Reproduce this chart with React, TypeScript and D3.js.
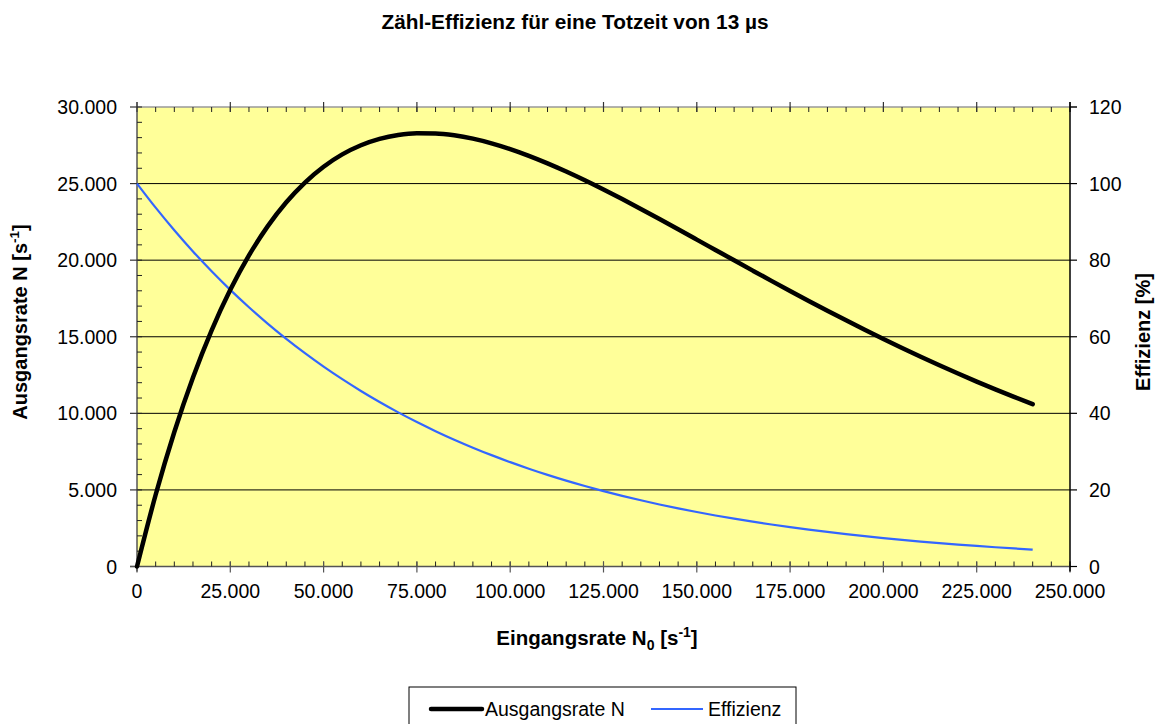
import React from "react";
import * as d3 from "d3";

// Eingangsrate N0 [1/s]
const inputRate = [
  0, 5000, 10000, 15000, 20000, 25000, 30000, 35000, 40000, 45000,
  50000, 55000, 60000, 65000, 70000, 75000, 80000, 85000, 90000, 95000,
  100000, 105000, 110000, 115000, 120000, 125000, 130000, 135000, 140000, 145000,
  150000, 155000, 160000, 165000, 170000, 175000, 180000, 185000, 190000, 195000,
  200000, 205000, 210000, 215000, 220000, 225000, 230000, 235000, 240000,
];
// Ausgangsrate N [1/s]
const outputRate = [
  0, 4685, 8781, 12342, 15421, 18063, 20312, 22206, 23781, 25070,
  26102, 26906, 27504, 27921, 28177, 28289, 28276, 28153, 27933, 27629,
  27253, 26815, 26324, 25789, 25217, 24614, 23988, 23343, 22684, 22015,
  21341, 20665, 19989, 19317, 18649, 17990, 17339, 16700, 16070, 15456,
  14854, 14268, 13696, 13140, 12600, 12074, 11567, 11073, 10598,
];
// Effizienz [%]
const efficiency = [
  100, 93.71, 87.81, 82.28, 77.11, 72.25, 67.71, 63.44, 59.45, 55.71,
  52.2, 48.92, 45.84, 42.96, 40.25, 37.72, 35.35, 33.12, 31.04, 29.08,
  27.25, 25.54, 23.93, 22.42, 21.01, 19.69, 18.45, 17.29, 16.2, 15.18,
  14.23, 13.33, 12.49, 11.71, 10.97, 10.28, 9.63, 9.03, 8.46, 7.93,
  7.43, 6.96, 6.52, 6.11, 5.73, 5.37, 5.03, 4.71, 4.42,
];
const xTicks = [0, 25000, 50000, 75000, 100000, 125000, 150000, 175000, 200000, 225000, 250000];
const yLeftTicks = [0, 5000, 10000, 15000, 20000, 25000, 30000];
const yRightTicks = [0, 20, 40, 60, 80, 100, 120];

const title = "Zähl-Effizienz für eine Totzeit von 13 µs";
const seriesNames = ["Ausgangsrate N", "Effizienz"];

const W = 1156;
const H = 724;
const left = 137;
const right = 1070;
const top = 107;
const bottom = 566.5;
const FONT = "'Liberation Sans', Arial, Helvetica, sans-serif";

const fmt = (v: number) => (v === 0 ? "0" : d3.format(",")(v).replace(/,/g, "."));

export default function App() {
  const x = d3.scaleLinear().domain([0, 250000]).range([left, right]);
  const yL = d3.scaleLinear().domain([0, 30000]).range([bottom, top]);
  const yR = d3.scaleLinear().domain([0, 120]).range([bottom, top]);

  const outLine = d3
    .line<number>()
    .x((_, i) => x(inputRate[i]))
    .y((d) => yL(d))
    .curve(d3.curveMonotoneX)(outputRate) as string;
  const effLine = d3
    .line<number>()
    .x((_, i) => x(inputRate[i]))
    .y((d) => yR(d))
    .curve(d3.curveMonotoneX)(efficiency) as string;

  const xMinor = d3.range(0, 250001, 5000);
  const yMinor = d3.range(0, 30001, 1000);

  return (
    <svg
      width={W}
      height={H}
      style={{ position: "absolute", left: 0, top: 0, display: "block", background: "#fff" }}
      fontFamily={FONT}
    >
      <text x={575} y={29} textAnchor="middle" fontSize={20.8} fontWeight="bold">
        {title}
      </text>

      {/* plot area */}
      <rect x={left} y={top} width={right - left} height={bottom - top} fill="#FFFF99" />

      {/* gridlines */}
      {yLeftTicks
        .filter((t) => t > 0 && t < 30000)
        .map((t) => (
          <line key={"g" + t} x1={left} x2={right} y1={yL(t)} y2={yL(t)} stroke="#000" strokeWidth={1} />
        ))}

      {/* top border */}
      <line x1={left} x2={right + 7} y1={top} y2={top} stroke="#999" strokeWidth={1.5} />
      {xMinor.map((t) => (
        <line key={"tm" + t} x1={x(t)} x2={x(t)} y1={top} y2={top + 5} stroke="#222" strokeWidth={1} />
      ))}
      {xTicks.map((t) => (
        <line key={"tM" + t} x1={x(t)} x2={x(t)} y1={top - 5} y2={top + 5} stroke="#333" strokeWidth={1.2} />
      ))}

      {/* left axis */}
      <line x1={left} x2={left} y1={top - 5} y2={bottom + 5} stroke="#555" strokeWidth={1.5} />
      {yMinor.map((t) => (
        <line key={"lm" + t} x1={left} x2={left + 5} y1={yL(t)} y2={yL(t)} stroke="#222" strokeWidth={1} />
      ))}
      {yLeftTicks.map((t) => (
        <g key={"l" + t}>
          <line x1={left - 7} x2={left} y1={yL(t)} y2={yL(t)} stroke="#333" strokeWidth={1.2} />
          <text x={117} y={yL(t) + 7} textAnchor="end" fontSize={19.5}>
            {fmt(t)}
          </text>
        </g>
      ))}

      {/* bottom axis */}
      <line x1={left - 7} x2={right} y1={bottom} y2={bottom} stroke="#555" strokeWidth={1.5} />
      {xMinor.map((t) => (
        <line key={"bm" + t} x1={x(t)} x2={x(t)} y1={bottom - 5} y2={bottom} stroke="#222" strokeWidth={1} />
      ))}
      {xTicks.map((t) => (
        <g key={"b" + t}>
          <line x1={x(t)} x2={x(t)} y1={bottom - 5} y2={bottom + 6} stroke="#555" strokeWidth={1.2} />
          <text x={x(t)} y={598} textAnchor="middle" fontSize={19.5}>
            {fmt(t)}
          </text>
        </g>
      ))}

      {/* right axis */}
      <line x1={right} x2={right} y1={top - 5} y2={bottom + 5} stroke="#000" strokeWidth={1.5} />
      {yRightTicks.map((t) => (
        <g key={"r" + t}>
          <line x1={right} x2={right + 7} y1={yR(t)} y2={yR(t)} stroke="#000" strokeWidth={1.2} />
          <text x={1089} y={yR(t) + 7} textAnchor="start" fontSize={19.5}>
            {t}
          </text>
        </g>
      ))}

      {/* series */}
      <path d={effLine} fill="none" stroke="#3366FF" strokeWidth={2.2} />
      <path d={outLine} fill="none" stroke="#000" strokeWidth={4.5} strokeLinecap="round" />

      {/* axis titles */}
      <text x={597} y={645} textAnchor="middle" fontSize={20.5} fontWeight="bold">
        Eingangsrate N
        <tspan fontSize={14} dy={5}>0</tspan>
        <tspan dy={-5}> [s</tspan>
        <tspan fontSize={14} dy={-8}>-1</tspan>
        <tspan dy={8}>]</tspan>
      </text>
      <text
        transform={`translate(27, 322) rotate(-90)`}
        textAnchor="middle"
        fontSize={20}
        fontWeight="bold"
      >
        Ausgangsrate N [s
        <tspan fontSize={13.5} dy={-8}>-1</tspan>
        <tspan dy={8}>]</tspan>
      </text>
      <text
        transform={`translate(1150, 332) rotate(-90)`}
        textAnchor="middle"
        fontSize={20}
        fontWeight="bold"
      >
        Effizienz [%]
      </text>

      {/* legend */}
      <rect x={409} y={687} width={387} height={50} fill="#fff" stroke="#000" strokeWidth={1} />
      <line x1={431} x2={482} y1={709} y2={709} stroke="#000" strokeWidth={4.5} strokeLinecap="round" />
      <text x={485} y={716} fontSize={19.5}>
        {seriesNames[0]}
      </text>
      <line x1={651} x2={703} y1={709} y2={709} stroke="#3366FF" strokeWidth={2.2} />
      <text x={708} y={716} fontSize={19.5}>
        {seriesNames[1]}
      </text>
    </svg>
  );
}
